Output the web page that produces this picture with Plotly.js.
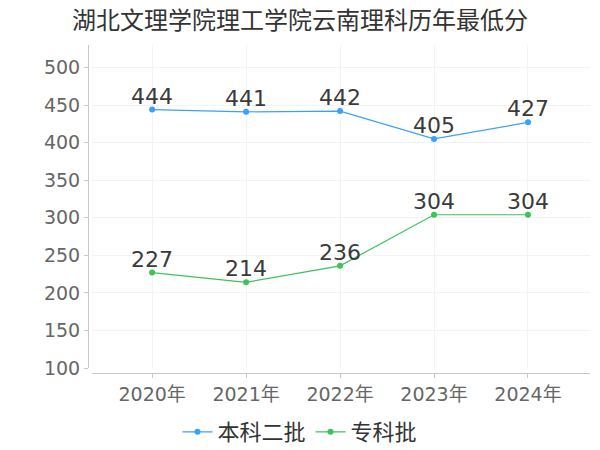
<!DOCTYPE html>
<html><head><meta charset="utf-8">
<script src="https://cdn.plot.ly/plotly-3.0.1.min.js"></script>
<style>body{margin:0;padding:0;}#chart{width:600px;height:450px;}</style>
</head><body><div id="chart"></div>
<script>
const years = ["2020年","2021年","2022年","2023年","2024年"];
const seriesNames = ["本科二批","专科批"];
const benke2 = [444, 441, 442, 405, 427];
const zhuanke = [227, 214, 236, 304, 304];
const yTicks = [100,150,200,250,300,350,400,450,500];
const colors = ["#3aa0ff","#3cc35a"];
const fontFam = "DejaVu Sans, Noto Sans CJK SC, sans-serif";

function mk(name, vals, color){
  return {type:"scatter", mode:"lines+markers", name:name, x:years, y:vals,
    line:{color:color,width:1.2}, marker:{color:color,size:6}, cliponaxis:false};
}
const data=[mk(seriesNames[0],benke2,colors[0]), mk(seriesNames[1],zhuanke,colors[1])];
const annotations=[];
[benke2,zhuanke].forEach(vals=>vals.forEach((v,i)=>annotations.push({
  x:years[i],y:v,text:String(v),showarrow:false,yanchor:"bottom",xanchor:"center",yshift:-1,
  font:{size:22,color:"#3a3a3a",family:fontFam}})));
const W=502, H=328;
const layout={
  width:600,height:450,margin:{l:88,r:10,t:45,b:77},
  paper_bgcolor:"#fff",plot_bgcolor:"#fff",
  font:{family:fontFam,color:"#333"},
  annotations:annotations,
  title:{text:"湖北文理学院理工学院云南理科历年最低分",x:0.5,xanchor:"center",yref:"container",y:0.955,yanchor:"middle",
    font:{size:24,color:"#333",family:"Noto Sans CJK SC, sans-serif"}},
  xaxis:{type:"category",domain:[4/W,1],anchor:"free",position:0,range:[-0.64,4.66],
    showline:true,linecolor:"#c8c8c8",linewidth:1,
    showgrid:true,gridcolor:"#f3f3f3",ticks:"outside",ticklen:4,tickcolor:"#c8c8c8",
    tickfont:{size:19,color:"#666"},zeroline:false,fixedrange:true},
  yaxis:{domain:[5/H,1],anchor:"free",position:0,range:[100,530],tickvals:yTicks,
    showline:true,linecolor:"#c8c8c8",linewidth:1,
    showgrid:true,gridcolor:"#f3f3f3",ticks:"outside",ticklen:4,tickcolor:"#c8c8c8",
    tickfont:{size:19,color:"#666"},zeroline:false,fixedrange:true},
  showlegend:true,
  legend:{orientation:"h",x:0.5,xanchor:"center",xref:"container",yref:"container",y:0.04,yanchor:"middle",
    font:{size:22,color:"#333",family:"Noto Sans CJK SC, sans-serif"},itemwidth:30,tracegroupgap:0}
};
Plotly.newPlot("chart",data,layout,{displayModeBar:false,staticPlot:true});
</script></body></html>
